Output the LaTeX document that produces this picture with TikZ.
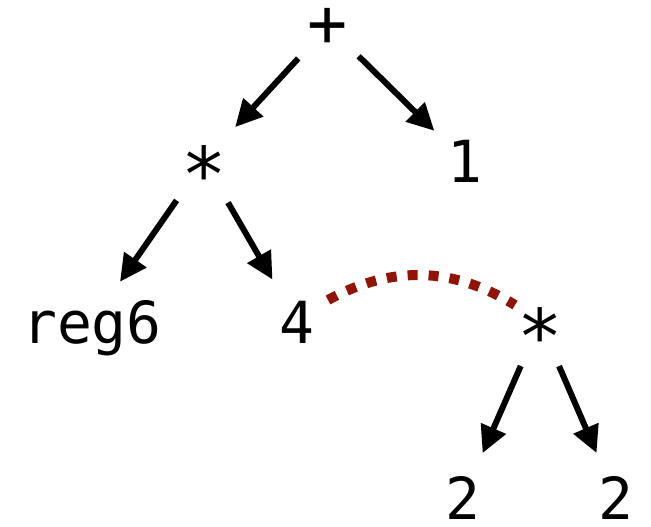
\documentclass[tikz,border=0pt]{standalone}
\usepackage{fontspec}
\setmonofont{DejaVu Sans Mono}
\usepackage{tikz}
\usetikzlibrary{arrows.meta,calc}
\definecolor{linkred}{HTML}{8E1508}
\newcommand{\opstar}{\raisebox{-20pt}{\scalebox{1.3}{*}}}

\begin{document}
\begin{tikzpicture}[x=1pt,y=-1pt,>={Triangle[length=27pt,width=26pt]},
  tok/.style={anchor=base,inner sep=0pt,text height=42pt,text depth=0pt,
    font=\ttfamily\fontsize{58}{60}\selectfont},
  edge/.style={->,line width=6pt,shorten <=48pt,shorten >=49pt},
  hint/.style={line width=10pt,linkred,dash pattern=on 10pt off 11pt}]
  \useasboundingbox (0,0) rectangle (651,527);
  \node[tok] (plus) at (328,47) {\scalebox{1.15}{+}};
  \node[tok] (mulL) at (204,182) {\opstar};
  \node[tok] (one)  at (465,182) {1};
  \node[tok] (reg)  at (92,343)  {reg6};
  \node[tok] (four) at (297,343) {4};
  \node[tok] (mulR) at (540,343) {\opstar};
  \node[tok] (twoL) at (463,519) {2};
  \node[tok] (twoR) at (616,519) {2};
  \draw[edge,shorten <=44pt,shorten >=46pt] (plus.center) -- (mulL.center);
  \draw[edge,shorten <=43pt,shorten >=43pt] (plus.center) -- (one.center);
  \draw[edge] (mulL.center) -- (reg.center);
  \draw[edge] (mulL.center) -- (four.center);
  \draw[edge] (mulR.center) -- (twoL.center);
  \draw[edge] (mulR.center) -- (twoR.center);
  \draw[hint] ([shift={(31,-22)}]four.center) to[bend left=30] ([shift={(-25,-17)}]mulR.center);
\end{tikzpicture}
\end{document}
